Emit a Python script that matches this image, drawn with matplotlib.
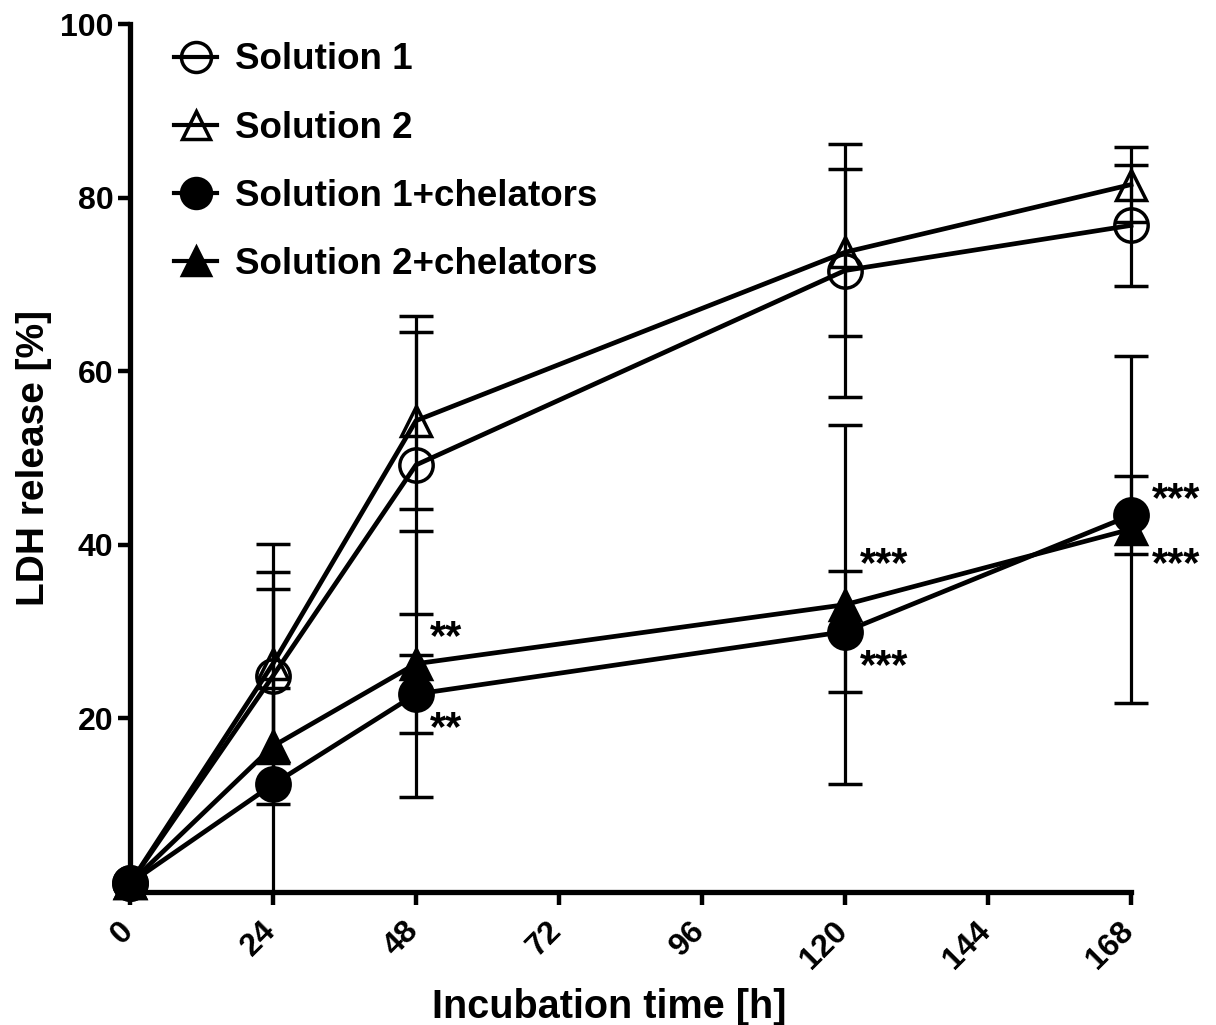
import matplotlib
matplotlib.use("Agg")
import matplotlib.pyplot as plt
from matplotlib.lines import Line2D
import matplotlib.transforms as mtransforms

plt.rcParams['font.family'] = ['Liberation Sans', 'DejaVu Sans']
plt.rcParams['font.weight'] = 'bold'

# ---- data ----
hours = [0, 24, 48, 120, 168]
xticks = [0, 24, 48, 72, 96, 120, 144, 168]
yticks = [20, 40, 60, 80, 100]

sol1_mean = [1.0, 24.9, 49.2, 71.6, 76.8]
sol1_err = [0.5, 10.0, 17.2, 14.6, 7.0]

sol2_mean = [1.0, 26.3, 54.3, 73.7, 81.5]
sol2_err = [0.5, 13.8, 10.2, 9.6, 4.3]

sol1c_mean = [1.0, 12.4, 22.8, 30.0, 43.4]
sol1c_err = [0.5, 24.5, 4.5, 7.0, 4.5]

sol2c_mean = [1.0, 16.8, 26.3, 33.1, 41.8]
sol2c_err = [0.5, 6.7, 15.3, 20.7, 20.0]

labels = ['Solution 1', 'Solution 2', 'Solution 1+chelators', 'Solution 2+chelators']

# significance annotations (x, y, text)
annotations = [
    (53.0, 29.3, '**'), (53.0, 18.8, '**'),
    (126.5, 37.7, '***'), (126.5, 25.9, '***'),
    (175.5, 45.1, '***'), (175.5, 37.7, '***'),
]

# ---- figure ----
fig = plt.figure(figsize=(12.16, 10.25), dpi=100)
W, H = 1216, 1025
ax = fig.add_axes([130 / W, 1 - 892 / H, (1131 - 130) / W, (892 - 24) / H])

# clip region: everything above the x axis (wider than the axes horizontally)
clip_bbox = mtransforms.TransformedBbox(
    mtransforms.Bbox([[-20, 0], [190, 120]]), ax.transData)

series = [
    (sol1_mean, sol1_err, 'o', 'none'),
    (sol2_mean, sol2_err, '^', 'none'),
    (sol1c_mean, sol1c_err, 'o', 'black'),
    (sol2c_mean, sol2c_err, '^', 'black'),
]

handles = []
for (m, e, mk, fc), lab in zip(series, labels):
    ms = 24 if mk == 'o' else 22
    cont = ax.errorbar(hours, m, yerr=e, fmt='-', marker=mk, color='black',
                       markerfacecolor=fc, markeredgecolor='black',
                       markersize=ms, markeredgewidth=2.5,
                       linewidth=3.4, elinewidth=2.3, capsize=12, capthick=2.3,
                       ecolor='black', zorder=3)
    cont.lines[0].set_clip_on(False)
    for art in list(cont.lines[1]) + list(cont.lines[2]):
        art.set_clip_on(True)
        art.set_clip_box(clip_bbox)
    handles.append(Line2D([], [], color='black', linewidth=3.0, marker=mk,
                          markersize=ms * 0.9, markerfacecolor=fc,
                          markeredgecolor='black', markeredgewidth=2.5))

ax.set_xlim(0, 168)
ax.set_ylim(0, 100)
ax.set_xticks(xticks)
ax.set_xticklabels([str(t) for t in xticks], rotation=45, ha='right',
                   va='center_baseline', rotation_mode='anchor',
                   fontsize=23, fontweight='bold')
ax.set_yticks(yticks)
ax.set_yticklabels([str(t) for t in yticks], fontsize=23, fontweight='bold')

for s in ['top', 'right']:
    ax.spines[s].set_visible(False)
for s in ['left', 'bottom']:
    ax.spines[s].set_linewidth(3.8)
ax.tick_params(axis='both', direction='out', length=9, width=3.2, pad=3)
ax.tick_params(axis='x', pad=14)
offset = mtransforms.ScaledTranslation(-4 / 100, 0, fig.dpi_scale_trans)
for lbl in ax.get_xticklabels():
    lbl.set_transform(lbl.get_transform() + offset)

ax.set_xlabel('Incubation time [h]', fontsize=28.5, fontweight='bold')
ax.xaxis.set_label_coords((609 - 130) / 1001, -0.111)
ax.set_ylabel('LDH release [%]', fontsize=28, fontweight='bold')
ax.yaxis.set_label_coords(-0.078, 0.5)

for x, y, t in annotations:
    ax.text(x, y, t, fontsize=30, fontweight='bold', ha='center', va='center',
            clip_on=False)

leg = ax.legend(handles=handles, labels=labels, loc='upper left',
                bbox_to_anchor=(0.026, 1.0), frameon=False, fontsize=26.5,
                handlelength=1.15, handletextpad=0.5, labelspacing=0.9,
                borderpad=0.0)
for txt in leg.get_texts():
    txt.set_fontweight('bold')

fig.savefig('out.png', dpi=100)
